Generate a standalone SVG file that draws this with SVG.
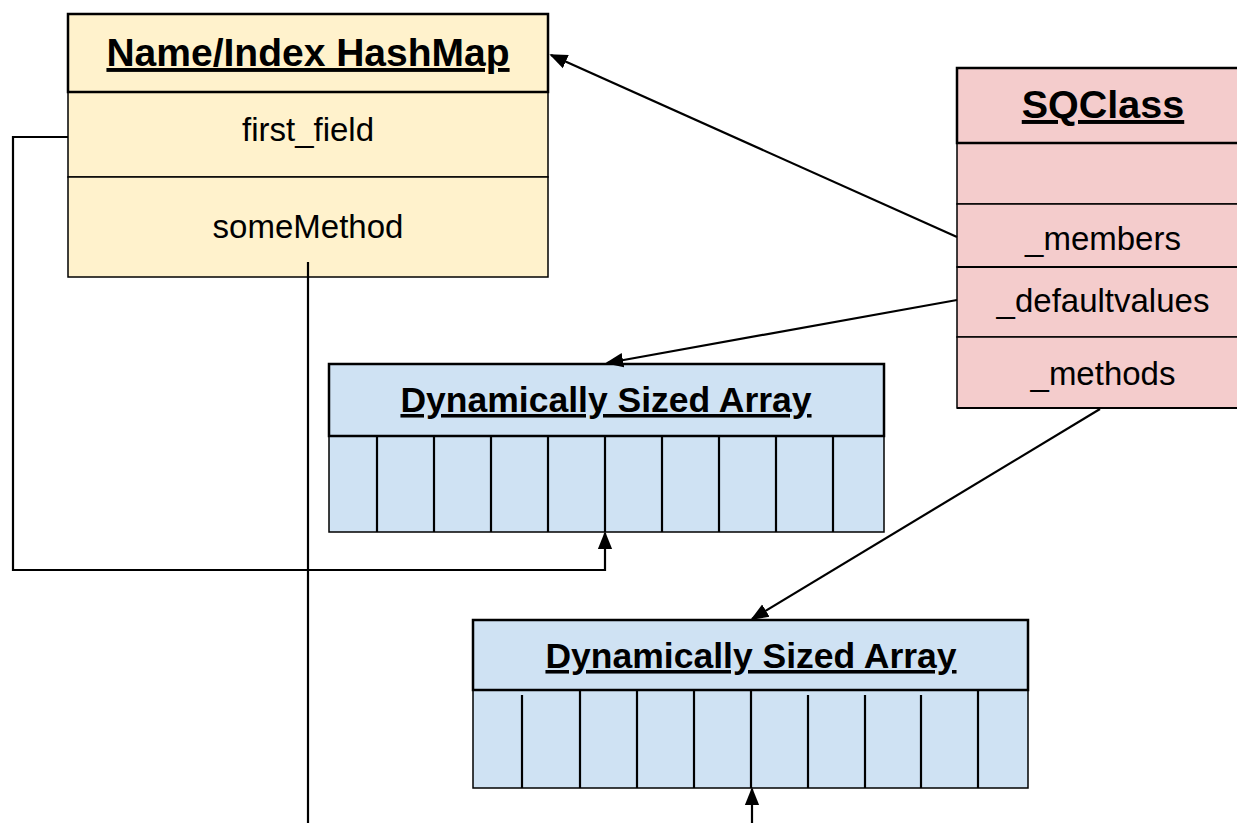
<svg xmlns="http://www.w3.org/2000/svg" width="1237" height="823" viewBox="0 0 1237 823">
<style>
.box{stroke:#000;stroke-width:1.5}
.hdr{stroke:#000;stroke-width:2.5}
.hm{fill:#fff2cc}
.sq{fill:#f4cccc}
.arr{fill:#cfe2f3}
.div{stroke:#000;stroke-width:2.2}
.title{font-family:"Liberation Sans",Arial,sans-serif;font-weight:bold;text-decoration:underline;text-anchor:middle;fill:#000}
.lbl{font-family:"Liberation Sans",Arial,sans-serif;font-size:33px;text-anchor:middle;fill:#000}
.conn{fill:none;stroke:#000;stroke-width:2.2}
</style>
<defs>
<marker id="ah2" viewBox="0 0 10 10" refX="9" refY="5" markerWidth="18" markerHeight="18" markerUnits="userSpaceOnUse" orient="auto">
<path d="M0,1 L10,5 L0,9 z" fill="#000"/>
</marker>
</defs>

<g id="hashmap">
<rect class="box hm" x="68" y="92" width="480" height="85"/>
<rect class="box hm" x="68" y="177" width="480" height="100"/>
<rect class="hdr hm" x="68" y="14" width="480" height="78"/>
<text class="title" x="308" y="66" font-size="39">Name/Index HashMap</text>
<text class="lbl" x="308" y="141">first_field</text>
<text class="lbl" x="308" y="238">someMethod</text>
</g>

<g id="sqclass">
<rect class="box sq" x="957" y="143" width="300" height="61"/>
<rect class="box sq" x="957" y="204" width="300" height="63"/>
<rect class="box sq" x="957" y="267" width="300" height="70"/>
<rect class="box sq" x="957" y="337" width="300" height="71"/>
<line class="div" x1="957" y1="267" x2="1237" y2="267"/>
<line class="div" x1="957" y1="408" x2="1237" y2="408"/>
<rect class="hdr sq" x="957" y="68" width="300" height="75"/>
<text class="title" x="1103" y="118" font-size="39.5">SQClass</text>
<text class="lbl" x="1103" y="250">_members</text>
<text class="lbl" x="1103" y="312">_defaultvalues</text>
<text class="lbl" x="1103" y="385">_methods</text>
</g>

<g id="array1">
<rect class="box arr" x="329" y="436" width="555" height="96"/>
<rect class="hdr arr" x="329" y="364" width="555" height="72"/>
<g class="div">
<line x1="377" y1="437" x2="377" y2="532"/>
<line x1="434" y1="437" x2="434" y2="532"/>
<line x1="491" y1="437" x2="491" y2="532"/>
<line x1="548" y1="437" x2="548" y2="532"/>
<line x1="605" y1="437" x2="605" y2="532"/>
<line x1="662" y1="437" x2="662" y2="532"/>
<line x1="719" y1="437" x2="719" y2="532"/>
<line x1="776" y1="437" x2="776" y2="532"/>
<line x1="833" y1="437" x2="833" y2="532"/>
</g>
<text class="title" x="606" y="412" font-size="35.5">Dynamically Sized Array</text>
</g>

<g id="array2">
<rect class="box arr" x="473" y="690" width="555" height="98"/>
<rect class="hdr arr" x="473" y="620" width="555" height="70"/>
<g class="div">
<line x1="522" y1="695" x2="522" y2="788"/>
<line x1="580" y1="691" x2="580" y2="788"/>
<line x1="637" y1="691" x2="637" y2="788"/>
<line x1="694" y1="691" x2="694" y2="788"/>
<line x1="751" y1="691" x2="751" y2="788"/>
<line x1="808" y1="695" x2="808" y2="788"/>
<line x1="865" y1="695" x2="865" y2="788"/>
<line x1="921" y1="695" x2="921" y2="788"/>
<line x1="978" y1="691" x2="978" y2="788"/>
</g>
<text class="title" x="751" y="668" font-size="35.5">Dynamically Sized Array</text>
</g>

<g id="connectors">
<line class="conn" x1="957" y1="237" x2="551" y2="55" marker-end="url(#ah2)"/>
<line class="conn" x1="957" y1="300" x2="607" y2="363" marker-end="url(#ah2)"/>
<line class="conn" x1="1100" y1="409" x2="752" y2="619" marker-end="url(#ah2)"/>
<polyline class="conn" points="68,137 13,137 13,570 605,570 605,533" marker-end="url(#ah2)"/>
<line class="conn" x1="308" y1="262" x2="308" y2="823"/>
<line class="conn" x1="752" y1="823" x2="752" y2="789" marker-end="url(#ah2)"/>
</g>
</svg>
